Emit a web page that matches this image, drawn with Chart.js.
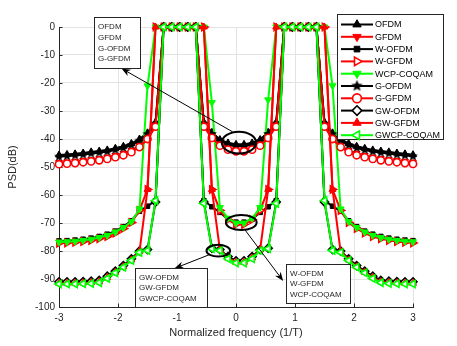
<!DOCTYPE html>
<html><head><meta charset="utf-8">
<script src="https://cdn.jsdelivr.net/npm/chart.js@4.4.1/dist/chart.umd.min.js"></script>
<style>html,body{margin:0;padding:0;background:#fff}#wrap{width:457px;height:346px;position:relative}</style>
</head><body><div id="wrap"><canvas id="c" width="457" height="346"></canvas></div>
<script>
const freq = [-3.000,-2.864,-2.727,-2.591,-2.455,-2.318,-2.182,-2.045,-1.909,-1.773,-1.636,-1.500,-1.364,-1.227,-1.091,-0.955,-0.818,-0.682,-0.545,-0.409,-0.273,-0.136,0.000,0.136,0.273,0.409,0.545,0.682,0.818,0.955,1.091,1.227,1.364,1.500,1.636,1.773,1.909,2.045,2.182,2.318,2.455,2.591,2.727,2.864,3.000];
const xTickLabels = [-3,-2,-1,0,1,2,3];
const yTickLabels = [-100,-90,-80,-70,-60,-50,-40,-30,-20,-10,0];
const seriesNames = ['OFDM','GFDM','W-OFDM','W-GFDM','WCP-COQAM','G-OFDM','G-GFDM','GW-OFDM','GW-GFDM','GWCP-COQAM'];

const OFDM = [-45.7,-45.5,-45.3,-45.0,-44.6,-44.3,-43.9,-43.3,-42.6,-41.6,-40.0,-37.8,-34.0,0,0,0,0,0,-34.0,-37.6,-40.2,-41.4,-41.9,-41.9,-41.4,-40.2,-37.6,-34.0,0,0,0,0,0,-34.0,-37.8,-40.0,-41.6,-42.6,-43.3,-43.9,-44.3,-44.6,-45.0,-45.3,-45.6];
const GFDM = [-48.4,-48.2,-48.0,-47.7,-47.4,-47.0,-46.5,-45.9,-45.2,-44.1,-42.3,-39.4,-35.0,0,0,0,0,0,-35.0,-39.0,-41.8,-43.2,-43.8,-43.8,-43.2,-41.8,-39.0,-35.0,0,0,0,0,0,-35.0,-39.4,-42.3,-44.1,-45.2,-45.9,-46.5,-47.0,-47.4,-47.7,-48.0,-48.3];
const W_OFDM = [-76.4,-76.3,-76.1,-75.8,-75.4,-74.8,-74.0,-72.9,-71.3,-69.2,-65.8,-64.0,-62.0,0,0,0,0,0,-62.0,-64.2,-66.2,-68.6,-69.7,-69.7,-68.6,-66.2,-64.2,-62.0,0,0,0,0,0,-62.0,-64.0,-65.8,-69.2,-71.3,-72.9,-74.0,-74.8,-75.4,-75.8,-76.1,-76.3];
const W_GFDM = [-77.2,-77.1,-76.9,-76.6,-76.2,-75.6,-74.8,-73.6,-72.0,-69.8,-65.5,-58.0,0,0,0,0,0,0,0,-58.0,-65.5,-68.8,-70.5,-70.5,-68.8,-65.5,-58.0,0,0,0,0,0,0,0,-58.0,-65.5,-69.8,-72.0,-73.6,-74.8,-75.6,-76.2,-76.6,-76.9,-77.1];
const WCP_COQAM = [-76.8,-76.7,-76.5,-76.2,-75.8,-75.2,-74.4,-73.2,-71.6,-69.5,-65.0,-21.0,0,0,0,0,0,0,0,-27.0,-64.5,-68.3,-70.0,-70.0,-68.3,-64.5,-26.0,0,0,0,0,0,0,0,-21.0,-65.0,-69.5,-71.6,-73.2,-74.4,-75.2,-75.8,-76.2,-76.5,-76.7];
const G_OFDM = [-46.3,-46.1,-45.9,-45.6,-45.2,-44.9,-44.5,-43.9,-43.2,-42.2,-40.6,-38.3,-34.5,0,0,0,0,0,-34.5,-38.2,-40.8,-42.0,-42.5,-42.5,-42.0,-40.8,-38.2,-34.5,0,0,0,0,0,-34.5,-38.3,-40.6,-42.2,-43.2,-43.9,-44.5,-44.9,-45.2,-45.6,-45.9,-46.2];
const G_GFDM = [-49.0,-48.8,-48.6,-48.3,-48.0,-47.6,-47.1,-46.5,-45.8,-44.7,-42.9,-40.0,-35.6,0,0,0,0,0,-35.6,-39.6,-42.4,-43.8,-44.4,-44.4,-43.8,-42.4,-39.6,-35.6,0,0,0,0,0,-35.6,-40.0,-42.9,-44.7,-45.8,-46.5,-47.1,-47.6,-48.0,-48.3,-48.6,-48.9];
const GW_OFDM = [-91.0,-91.0,-91.0,-90.9,-90.8,-90.5,-89.0,-87.2,-85.2,-82.8,-80.0,-79.5,-62.5,0,0,0,0,0,-62.5,-79.0,-79.5,-82.0,-83.5,-83.5,-82.0,-79.5,-79.0,-62.5,0,0,0,0,0,-62.5,-79.5,-80.0,-82.8,-85.2,-87.2,-89.0,-90.5,-90.8,-90.9,-91.0,-91.0];
const GW_GFDM = [-91.5,-91.5,-91.5,-91.4,-91.3,-91.0,-89.5,-87.6,-85.6,-83.2,-80.2,-58.0,0,0,0,0,0,0,0,-58.0,-79.5,-82.5,-84.0,-84.0,-82.5,-79.5,-58.0,0,0,0,0,0,0,0,-58.0,-80.2,-83.2,-85.6,-87.6,-89.5,-91.0,-91.3,-91.4,-91.5,-91.5];
const GWCP_COQAM = [-91.8,-91.8,-91.8,-91.7,-91.6,-91.3,-89.8,-87.8,-85.8,-83.4,-80.5,-79.8,-62.0,0,0,0,0,0,-63.0,-79.2,-79.8,-82.8,-84.3,-84.3,-82.8,-79.8,-79.2,-63.0,0,0,0,0,0,-62.0,-79.8,-80.5,-83.4,-85.8,-87.8,-89.8,-91.3,-91.6,-91.7,-91.8,-91.8];

const seriesValues = [OFDM,GFDM,W_OFDM,W_GFDM,WCP_COQAM,G_OFDM,G_GFDM,GW_OFDM,GW_GFDM,GWCP_COQAM];

const FONT = "'Liberation Sans', Arial, Helvetica, sans-serif";
const BLACK='#000000', RED='#ff0000', GREEN='#00ff00';

function makeStar(color, r){
  const s = Math.ceil(r*2+3);
  const c = document.createElement('canvas'); c.width=s; c.height=s;
  const g = c.getContext('2d');
  g.beginPath();
  for(let j=0;j<10;j++){
    const rr = (j%2)? r*0.45 : r;
    const a = -Math.PI/2 + j*Math.PI/5;
    g.lineTo(s/2+rr*Math.cos(a), s/2+rr*Math.sin(a));
  }
  g.closePath(); g.fillStyle=color; g.fill();
  return c;
}
const starImg = makeStar(BLACK, 5.2);
const starImgLeg = makeStar(BLACK, 6);

const styles = [
  {c:BLACK, ps:'triangle', rot:0,   fill:true,  r:4},
  {c:RED,   ps:'triangle', rot:180, fill:true,  r:4},
  {c:BLACK, ps:'rect',     rot:0,   fill:true,  r:3.2},
  {c:RED,   ps:'triangle', rot:90,  fill:false, r:4.2},
  {c:GREEN, ps:'triangle', rot:180, fill:true,  r:4},
  {c:BLACK, ps:starImg,    rot:0,   fill:true,  r:5, leg:starImgLeg},
  {c:RED,   ps:'circle',   rot:0,   fill:false, r:3.6},
  {c:BLACK, ps:'rectRot',  rot:0,   fill:false, r:4},
  {c:RED,   ps:'triangle', rot:0,   fill:true,  r:4},
  {c:GREEN, ps:'triangle', rot:270, fill:false, r:4.2}
];

const datasets = seriesNames.map((name,i)=>({
  label: name,
  data: freq.map((f,j)=>({x:f, y:seriesValues[i][j]})),
  borderColor: styles[i].c,
  backgroundColor: styles[i].fill ? styles[i].c : '#ffffff',
  pointBackgroundColor: styles[i].fill ? styles[i].c : '#ffffff',
  pointBorderColor: styles[i].c,
  pointBorderWidth: styles[i].fill ? 1 : 1.6,
  pointStyle: styles[i].ps,
  pointRotation: styles[i].rot,
  pointRadius: styles[i].r,
  borderWidth: 2,
  tension: 0,
  fill: false,
  clip: false,
  order: 9 - i
}));

// annotations in data units
const ellipses = [
  {x:0.05, y:-41.3, rx:0.29, ry:3.9},
  {x:0.09, y:-69.8, rx:0.26, ry:2.7},
  {x:-0.30, y:-79.9, rx:0.20, ry:2.1}
];
const arrows = [
  {x1:-0.06, y1:-37.4, x2:-1.94, y2:-14.8},
  {x1:0.15, y1:-72.4, x2:0.80, y2:-90.7},
  {x1:-0.45, y1:-81.3, x2:-1.04, y2:-86.2}
];
const boxes = [
  {x1:-2.40, y1:3.6, x2:-1.63, y2:-14.5, lines:['OFDM','GFDM','G-OFDM','G-GFDM']},
  {x1:0.85, y1:-84.6, x2:1.93, y2:-98.6, lines:['W-OFDM','W-GFDM','WCP-COQAM']},
  {x1:-1.72, y1:-86.2, x2:-0.50, y2:-99.9, lines:['GW-OFDM','GW-GFDM','GWCP-COQAM']}
];

function drawMarker(ctx, st, x, y, r){
  if (st.leg || typeof st.ps !== 'string') {
    const img = st.leg || st.ps;
    ctx.drawImage(img, x - img.width/2, y - img.height/2);
    return;
  }
  ctx.save();
  ctx.fillStyle = st.fill ? st.c : '#ffffff';
  ctx.strokeStyle = st.c;
  ctx.lineWidth = st.fill ? 1 : 1.6;
  Chart.helpers.drawPoint(ctx, {pointStyle: st.ps, rotation: st.rot, radius: r, borderWidth: ctx.lineWidth}, x, y);
  ctx.restore();
}

const decor = {
  id:'decor',
  beforeDatasetsDraw(chart){
    const {ctx, chartArea:a, scales:{x, y}} = chart;
    ctx.save();
    ctx.strokeStyle='#262626'; ctx.lineWidth=1;
    xTickLabels.forEach(v=>{ const px=Math.round(x.getPixelForValue(v))+0.5; ctx.beginPath(); ctx.moveTo(px,a.bottom); ctx.lineTo(px,a.bottom-3.5); ctx.stroke(); });
    yTickLabels.forEach(v=>{ const py=Math.round(y.getPixelForValue(v))+0.5; ctx.beginPath(); ctx.moveTo(a.left,py); ctx.lineTo(a.left+3.5,py); ctx.stroke(); });
    ctx.restore();
  },
  afterDraw(chart){
    const {ctx, scales:{x, y}} = chart;
    ctx.save();
    // ellipses
    ctx.strokeStyle='#000'; ctx.lineWidth=2;
    ellipses.forEach(e=>{
      const cx=x.getPixelForValue(e.x), cy=y.getPixelForValue(e.y);
      const rx=Math.abs(x.getPixelForValue(e.x+e.rx)-cx), ry=Math.abs(y.getPixelForValue(e.y+e.ry)-cy);
      ctx.beginPath(); ctx.ellipse(cx,cy,rx,ry,0,0,Math.PI*2); ctx.stroke();
    });
    // arrows
    ctx.lineWidth=1; ctx.fillStyle='#000';
    arrows.forEach(ar=>{
      const x1=x.getPixelForValue(ar.x1), y1=y.getPixelForValue(ar.y1);
      const x2=x.getPixelForValue(ar.x2), y2=y.getPixelForValue(ar.y2);
      const ang=Math.atan2(y2-y1,x2-x1);
      ctx.beginPath(); ctx.moveTo(x1,y1); ctx.lineTo(x2-Math.cos(ang)*5,y2-Math.sin(ang)*5); ctx.stroke();
      const L=9, W=3.5;
      ctx.beginPath();
      ctx.moveTo(x2,y2);
      ctx.lineTo(x2-L*Math.cos(ang)+W*Math.sin(ang), y2-L*Math.sin(ang)-W*Math.cos(ang));
      ctx.lineTo(x2-L*0.7*Math.cos(ang), y2-L*0.7*Math.sin(ang));
      ctx.lineTo(x2-L*Math.cos(ang)-W*Math.sin(ang), y2-L*Math.sin(ang)+W*Math.cos(ang));
      ctx.closePath(); ctx.fill();
    });
    // text boxes
    boxes.forEach(b=>{
      const bx1=Math.round(x.getPixelForValue(b.x1))+0.5, by1=Math.round(y.getPixelForValue(b.y1))+0.5;
      const bx2=Math.round(x.getPixelForValue(b.x2))+0.5, by2=Math.round(y.getPixelForValue(b.y2))+0.5;
      ctx.fillStyle='#fff'; ctx.fillRect(bx1,by1,bx2-bx1,by2-by1);
      ctx.strokeStyle='#262626'; ctx.lineWidth=1; ctx.strokeRect(bx1,by1,bx2-bx1,by2-by1);
      ctx.fillStyle='#262626'; ctx.font='8px '+FONT; ctx.textBaseline='middle'; ctx.textAlign='left';
      const n=b.lines.length, h=by2-by1, step=10.6;
      const start=by1 + h/2 - step*(n-1)/2;
      b.lines.forEach((t,i)=>ctx.fillText(t, bx1+3.5, start+i*step));
    });
    // legend
    const L={x:337.5, y:14.5, w:106, h:125};
    ctx.fillStyle='#fff'; ctx.fillRect(L.x,L.y,L.w,L.h);
    ctx.strokeStyle='#262626'; ctx.lineWidth=1; ctx.strokeRect(L.x,L.y,L.w,L.h);
    ctx.font='9px '+FONT; ctx.textBaseline='middle'; ctx.textAlign='left';
    seriesNames.forEach((name,i)=>{
      const st=styles[i]; const ry=24.5+i*12.3;
      ctx.strokeStyle=st.c; ctx.lineWidth=2;
      ctx.beginPath(); ctx.moveTo(341,ry); ctx.lineTo(373,ry); ctx.stroke();
      drawMarker(ctx, st, 357, ry, st.r+0.8);
      ctx.fillStyle='#000'; ctx.fillText(name, 375, ry+0.5);
    });
    ctx.restore();
  }
};

new Chart(document.getElementById('c'), {
  type:'line',
  data:{datasets},
  options:{
    responsive:false, animation:false, devicePixelRatio:1,
    layout:{padding:{left:0, top:27, right:44, bottom:0}},
    plugins:{legend:{display:false}, tooltip:{enabled:false}},
    scales:{
      x:{type:'linear', min:-3, max:3,
         afterBuildTicks:s=>{s.ticks=xTickLabels.map(v=>({value:v}));},
         ticks:{font:{family:FONT,size:10}, color:'#262626', padding:5, maxRotation:0},
         grid:{color:'#e3e3e3', drawTicks:false, lineWidth:1},
         border:{color:'#262626', width:1},
         title:{display:true, text:'Normalized frequency (1/T)', font:{family:FONT,size:11}, color:'#262626', padding:{top:0,bottom:6}},
         afterFit:s=>{s.height=39;}},
      y:{type:'linear', min:-100, max:0,
         afterBuildTicks:s=>{s.ticks=yTickLabels.map(v=>({value:v}));},
         ticks:{font:{family:FONT,size:10}, color:'#262626', padding:4},
         grid:{color:'#e3e3e3', drawTicks:false, lineWidth:1},
         border:{color:'#262626', width:1},
         title:{display:true, text:'PSD(dB)', font:{family:FONT,size:11}, color:'#262626', padding:{top:6,bottom:0}},
         afterFit:s=>{s.width=59;}}
    }
  },
  plugins:[decor]
});
</script></body></html>
